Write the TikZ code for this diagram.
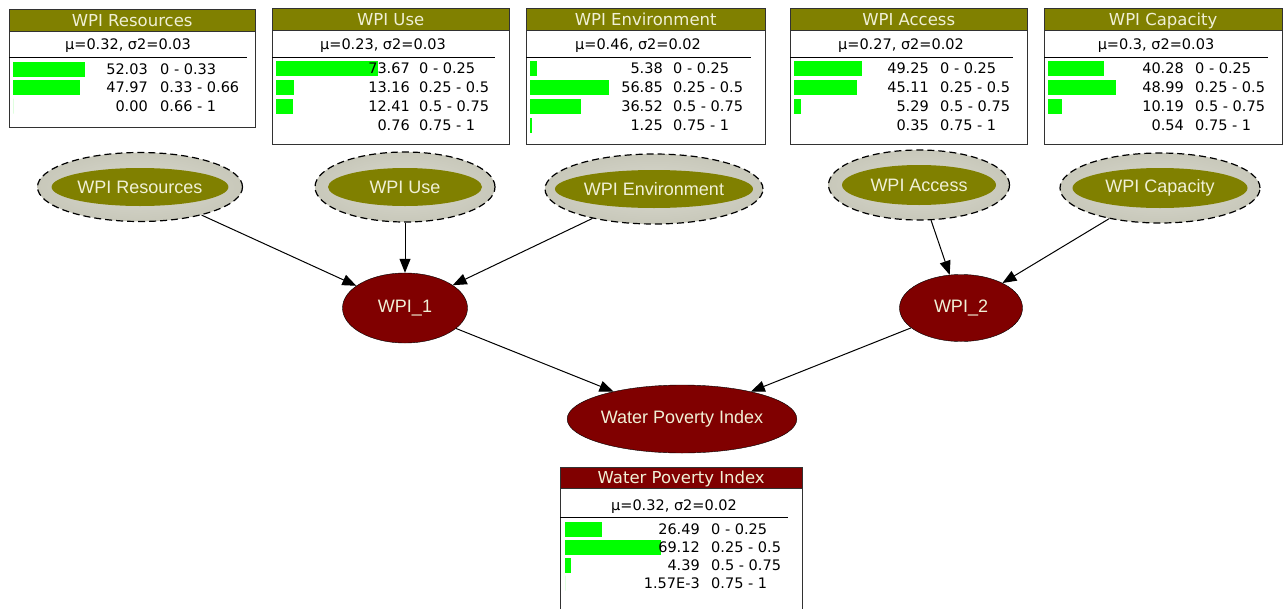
\documentclass[tikz,border=0pt]{standalone}
\usepackage{fontspec}
\setmainfont{DejaVu Sans}
\newfontfamily\ellfont{Liberation Sans}
\usetikzlibrary{shapes.geometric,positioning,arrows.meta}
\definecolor{wpiolive}{RGB}{128,128,0}
\definecolor{wpired}{RGB}{128,0,0}
\definecolor{wpiring}{RGB}{200,200,186}
\definecolor{wpitext}{RGB}{240,240,214}
\definecolor{wpibar}{RGB}{0,255,0}
\definecolor{wpiframe}{RGB}{50,50,50}

\begin{document}
\begin{tikzpicture}[
  x=1pt, y=-1pt,
  head/.style={draw=wpiframe, fill=wpiolive, text=wpitext, anchor=north west,
               minimum height=22pt, inner sep=0pt, text height=12pt, text depth=0pt,
               font=\fontsize{16.5}{19}\selectfont},
  panel/.style={draw=wpiframe, fill=white, inner sep=0pt},
  stat/.style={inner sep=0pt, text height=10.6pt, text depth=0pt, font=\fontsize{14.5}{17}\selectfont},
  num/.style={stat, anchor=east},
  rng/.style={stat, anchor=west},
  rule/.style={draw=black, line width=1pt},
  bar/.style={fill=wpibar},
  ring/.style={ellipse, draw=black, dash pattern=on 7pt off 4pt, line width=1.2pt,
               inner color=wpiring!70!white, outer color=wpiring, inner sep=0pt},
  core/.style={ellipse, fill=wpiolive, text=wpitext, inner sep=0pt,
               font=\ellfont\fontsize{18}{21}\selectfont},
  calc/.style={ellipse, draw=black, fill=wpired, text=wpitext, inner sep=0pt,
               font=\ellfont\fontsize{18}{21}\selectfont},
  arr/.style={-{Triangle[length=14pt, width=11pt]}, line width=1pt},
]
\useasboundingbox (0,0) rectangle (1288,608);
\clip (0,0) rectangle (1288,608);

% monitor windows
\node[head, minimum width=246] (resHead) at (9,9) {WPI Resources};
\node[panel, minimum width=246, minimum height=96, below=0pt of resHead] (resPanel) {};
\node[stat] (resStat) at (128,44) {μ=0.32, σ2=0.03};
\draw[rule] (9,57) -- (247,57);
\foreach \v/\r/\b [count=\i] in {52.03/0 - 0.33/52.03, 47.97/0.33 - 0.66/47.97, 0.00/0.66 - 1/0} {
  \pgfmathsetmacro\y{69+18.5*(\i-1)}
  \fill[bar] (13,\y-7.5) rectangle ++(\b*1.39,15);
  \node[num] (resNum\i) at (148,\y) {\v};
  \node[rng] (resRng\i) at (160,\y) {\r};
}

\node[head, minimum width=237] (useHead) at (272,8) {WPI Use};
\node[panel, minimum width=237, minimum height=114, below=0pt of useHead] (usePanel) {};
\node[stat] (useStat) at (383,44) {μ=0.23, σ2=0.03};
\draw[rule] (272,57) -- (495,57);
\foreach \v/\r [count=\i] in {73.67/0 - 0.25, 13.16/0.25 - 0.5, 12.41/0.5 - 0.75, 0.76/0.75 - 1} {
  \pgfmathsetmacro\y{68+19*(\i-1)}
  \ifdim\v pt<1pt\else\fill[bar] (276,\y-7.5) rectangle ++(\v*1.39,15);\fi
  \node[num] (useNum\i) at (410,\y) {\v};
  \node[rng] (useRng\i) at (419,\y) {\r};
}

\node[head, minimum width=239] (envHead) at (526,8) {WPI Environment};
\node[panel, minimum width=239, minimum height=114, below=0pt of envHead] (envPanel) {};
\node[stat] (envStat) at (638,44) {μ=0.46, σ2=0.02};
\draw[rule] (526,57) -- (751,57);
\foreach \v/\r [count=\i] in {5.38/0 - 0.25, 56.85/0.25 - 0.5, 36.52/0.5 - 0.75, 1.25/0.75 - 1} {
  \pgfmathsetmacro\y{68+19*(\i-1)}
  \ifdim\v pt<1pt\else\fill[bar] (530,\y-7.5) rectangle ++(\v*1.39,15);\fi
  \node[num] (envNum\i) at (663,\y) {\v};
  \node[rng] (envRng\i) at (673,\y) {\r};
}

\node[head, minimum width=237] (accHead) at (790,8) {WPI Access};
\node[panel, minimum width=237, minimum height=114, below=0pt of accHead] (accPanel) {};
\node[stat] (accStat) at (901,44) {μ=0.27, σ2=0.02};
\draw[rule] (790,57) -- (1013,57);
\foreach \v/\r [count=\i] in {49.25/0 - 0.25, 45.11/0.25 - 0.5, 5.29/0.5 - 0.75, 0.35/0.75 - 1} {
  \pgfmathsetmacro\y{68+19*(\i-1)}
  \ifdim\v pt<1pt\else\fill[bar] (794,\y-7.5) rectangle ++(\v*1.39,15);\fi
  \node[num] (accNum\i) at (929,\y) {\v};
  \node[rng] (accRng\i) at (940,\y) {\r};
}

\node[head, minimum width=238] (capHead) at (1044,8) {WPI Capacity};
\node[panel, minimum width=238, minimum height=114, below=0pt of capHead] (capPanel) {};
\node[stat] (capStat) at (1156,44) {μ=0.3, σ2=0.03};
\draw[rule] (1044,57) -- (1268,57);
\foreach \v/\r [count=\i] in {40.28/0 - 0.25, 48.99/0.25 - 0.5, 10.19/0.5 - 0.75, 0.54/0.75 - 1} {
  \pgfmathsetmacro\y{68+19*(\i-1)}
  \ifdim\v pt<1pt\else\fill[bar] (1048,\y-7.5) rectangle ++(\v*1.39,15);\fi
  \node[num] (capNum\i) at (1184,\y) {\v};
  \node[rng] (capRng\i) at (1195,\y) {\r};
}

\node[head, fill=wpired, minimum width=242, minimum height=21] (wpiHead) at (560,467) {Water Poverty Index};
\node[panel, minimum width=242, minimum height=140, below=0pt of wpiHead] (wpiPanel) {};
\node[stat] (wpiStat) at (674,505) {μ=0.32, σ2=0.02};
\draw[rule] (560,517) -- (788,517);
\foreach \v/\r/\b [count=\i] in {26.49/0 - 0.25/26.49, 69.12/0.25 - 0.5/69.12, 4.39/0.5 - 0.75/4.39, 1.57E-3/0.75 - 1/0} {
  \pgfmathsetmacro\y{529+18*(\i-1)}
  \fill[bar] (565,\y-7.5) rectangle ++(\b*1.39,15);
  \node[num] (wpiNum\i) at (700,\y) {\v};
  \node[rng] (wpiRng\i) at (711,\y) {\r};
}

% network
\node[ring, minimum width=205, minimum height=69] (res) at (140,187) {};
\node[core, minimum width=176, minimum height=38] (resCore) at (res) {WPI Resources};
\node[ring, minimum width=180, minimum height=70] (use) at (405,187) {};
\node[core, minimum width=154, minimum height=38] (useCore) at (use) {WPI Use};
\node[ring, minimum width=218, minimum height=70] (env) at (654,189) {};
\node[core, minimum width=192, minimum height=38] (envCore) at (env) {WPI Environment};
\node[ring, minimum width=181, minimum height=70] (acc) at (919,185) {};
\node[core, minimum width=154, minimum height=40] (accCore) at (acc) {WPI Access};
\node[ring, minimum width=200, minimum height=70] (cap) at (1160,188) {};
\node[core, minimum width=175, minimum height=40] (capCore) at (cap) {WPI Capacity};

\node[calc, minimum width=125, minimum height=70] (wpi1) at (405,308) {WPI\_1};
\node[calc, minimum width=123, minimum height=67] (wpi2) at (961,308) {WPI\_2};
\node[calc, minimum width=211, minimum height=68] (wpi) at (682,419) {Water Poverty Index};

\draw[arr] (res) -- (wpi1);
\draw[arr] (use) -- (wpi1);
\draw[arr] (env) -- (wpi1);
\draw[arr] (acc) -- (wpi2);
\draw[arr] (cap) -- (wpi2);
\draw[arr] (wpi1) -- (wpi);
\draw[arr] (wpi2) -- (wpi);
\end{tikzpicture}
\end{document}
